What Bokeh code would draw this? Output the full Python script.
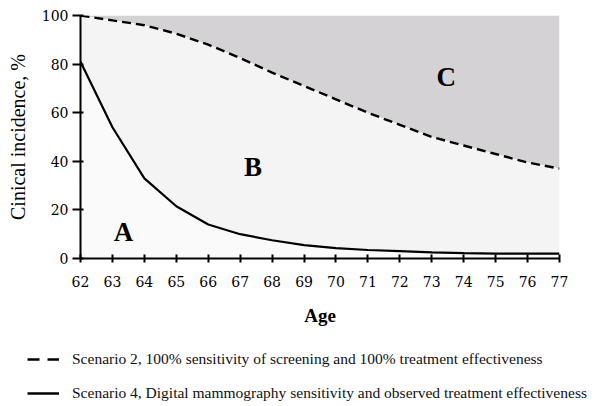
from bokeh.plotting import figure
from bokeh.models import Label, Legend, LegendItem, Range1d, FixedTicker
from bokeh.layouts import column
from bokeh.embed import file_html
from bokeh.resources import INLINE

ages = [62, 63, 64, 65, 66, 67, 68, 69, 70, 71, 72, 73, 74, 75, 76, 77]
scenario2 = [100, 98, 96, 92.5, 88, 82.5, 76.5, 71, 65.5, 60, 55, 50, 46.5, 43, 39.5, 37]
scenario4 = [81, 54, 33, 21.5, 14, 10, 7.5, 5.5, 4.3, 3.5, 3, 2.5, 2.2, 2, 2, 2]
top_line = [100] * len(ages)
zero_line = [0] * len(ages)
y_ticks = [0, 20, 40, 60, 80, 100]
label2 = "Scenario 2, 100% sensitivity of screening and 100% treatment effectiveness"
label4 = "Scenario 4, Digital mammography sensitivity and observed treatment effectiveness"
region_labels = ["A", "B", "C"]
region_pos = [(63.35, 11), (67.4, 37.5), (73.45, 74.5)]

SERIF = "Liberation Serif"
TICKF = "DejaVu Serif"

p = figure(frame_width=479, frame_height=243, output_backend="svg", toolbar_location=None,
           x_range=Range1d(62, 77), y_range=Range1d(0, 100),
           min_border_left=80, min_border_right=44, min_border_top=15, min_border_bottom=77)
p.outline_line_color = None
p.grid.visible = False
p.background_fill_color = "white"

p.varea(x=ages, y1=scenario2, y2=top_line, fill_color="#d5d2d5")
p.varea(x=ages, y1=scenario4, y2=scenario2, fill_color="#f4f4f4")
p.varea(x=ages, y1=zero_line, y2=scenario4, fill_color="#fafafa")

p.line(ages, scenario2, line_color="black", line_width=2.4, line_dash="9 5")
p.line(ages, scenario4, line_color="black", line_width=2.2)

for t, (lx, ly) in zip(region_labels, region_pos):
    p.add_layout(Label(x=lx, y=ly, text=t, text_font=SERIF, text_font_style="bold",
                       text_font_size="27px", text_align="center", text_baseline="middle",
                       text_color="black"))

p.xaxis.ticker = FixedTicker(ticks=ages)
p.yaxis.ticker = FixedTicker(ticks=y_ticks)
for ax in (p.xaxis, p.yaxis):
    ax.axis_line_width = 2
    ax.axis_line_color = "black"
    ax.major_tick_line_width = 2
    ax.major_tick_line_color = "black"
    ax.minor_tick_line_color = None
    ax.major_label_text_font = TICKF
    ax.major_label_text_font_size = "14px"
    ax.major_label_text_color = "black"
    ax.axis_label_text_font = SERIF
    ax.axis_label_text_color = "black"

p.xaxis.major_tick_in = 4
p.xaxis.major_tick_out = 4
p.xaxis.major_label_standoff = 13
p.xaxis.axis_label = "Age"
p.xaxis.axis_label_standoff = 15
p.xaxis.axis_label_text_font_style = "bold"
p.xaxis.axis_label_text_font_size = "19px"

p.yaxis.major_tick_in = 3
p.yaxis.major_tick_out = 8
p.yaxis.major_label_standoff = 4
p.yaxis.axis_label = "Cinical incidence, %"
p.yaxis.axis_label_standoff = 10
p.yaxis.axis_label_text_font_style = "normal"
p.yaxis.axis_label_text_font_size = "20px"

# legend panel below the chart
lg = figure(frame_width=603, frame_height=71, output_backend="svg", toolbar_location=None,
            x_range=Range1d(0, 1), y_range=Range1d(0, 1),
            x_axis_type=None, y_axis_type=None,
            min_border_left=0, min_border_right=0, min_border_top=0, min_border_bottom=0)
lg.outline_line_color = None
lg.grid.visible = False
lg.background_fill_color = "white"
lg.border_fill_color = "white"
nan = float("nan")
k2 = lg.line(x=[nan, nan], y=[nan, nan], line_color="black", line_width=2.6, line_dash="12 8")
k4 = lg.line(x=[nan, nan], y=[nan, nan], line_color="black", line_width=2.6)
legend = Legend(items=[LegendItem(label=label2, renderers=[k2]),
                       LegendItem(label=label4, renderers=[k4])],
                location=(27, 3), orientation="vertical",
                label_text_font=SERIF, label_text_font_size="15.5px",
                label_text_color="#111111",
                glyph_width=32, glyph_height=20, spacing=14, padding=4, margin=0,
                background_fill_alpha=0, border_line_color=None, label_standoff=13)
lg.add_layout(legend, "center")

open("out.html", "w").write(file_html(column(p, lg, spacing=0), INLINE))
